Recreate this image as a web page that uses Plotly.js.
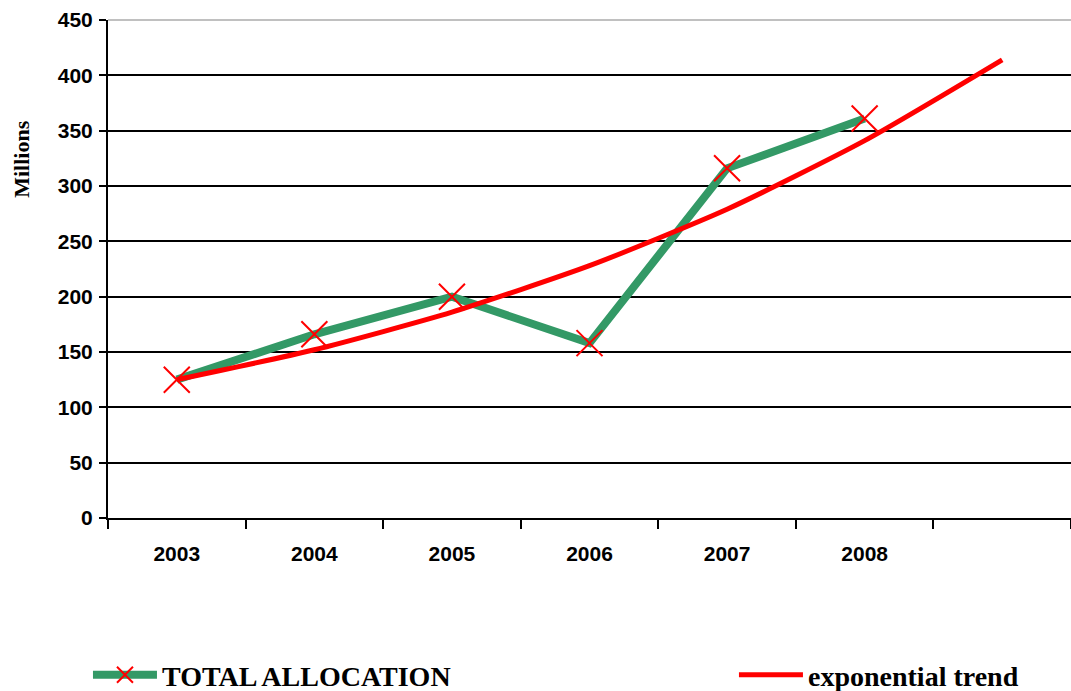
<!DOCTYPE html>
<html>
<head>
<meta charset="utf-8">
<script src="https://cdn.plot.ly/plotly-3.0.1.min.js"></script>
<style>html,body{margin:0;padding:0;background:#fff;}#chart{width:1071px;height:691px;}</style>
</head>
<body>
<div id="chart"></div>
<script>
const categories = ['2003', '2004', '2005', '2006', '2007', '2008', ' '];
const allocationYears = ['2003', '2004', '2005', '2006', '2007', '2008'];
const allocationValues = [125, 166, 200, 158, 316, 361];
const trendYears = ['2003', '2004', '2005', '2006', '2007', '2008', ' '];
const trendValues = [125, 152, 186, 228, 279, 341, 414];
const yTicks = [0, 50, 100, 150, 200, 250, 300, 350, 400, 450];
const yGridTicks = [0, 50, 100, 150, 200, 250, 300, 350, 400];

const legendFont = {family: 'Liberation Serif, Times New Roman, serif', size: 28, color: '#000', weight: 'bold'};

const traces = [
  {x: [categories[0]], y: [null], yaxis: 'y2', xaxis: 'x', showlegend: false, hoverinfo: 'skip', type: 'scatter', mode: 'lines'},
  {
    x: allocationYears, y: allocationValues, name: 'TOTAL ALLOCATION',
    type: 'scatter', mode: 'lines+markers', legend: 'legend',
    line: {color: '#339966', width: 8},
    marker: {symbol: 'x-thin-open', size: 26, color: '#FF0000', line: {color: '#FF0000', width: 2}},
    xaxis: 'x', yaxis: 'y'
  },
  {
    x: trendYears, y: trendValues, name: 'exponential trend',
    type: 'scatter', mode: 'lines', legend: 'legend2',
    line: {color: '#FF0000', width: 5, shape: 'spline', smoothing: 0.6},
    xaxis: 'x', yaxis: 'y'
  }
];

const tickFont = {family: 'Liberation Sans, Arial, sans-serif', size: 21, color: '#000', weight: 'bold'};

const layout = {
  width: 1071, height: 691,
  margin: {l: 108, r: 0, t: 20, b: 173, autoexpand: false},
  paper_bgcolor: '#fff', plot_bgcolor: '#fff',
  showlegend: true,
  legend: {
    orientation: 'h', x: -0.0208, xanchor: 'left', y: -0.3153, yanchor: 'middle',
    itemwidth: 64, font: legendFont, bgcolor: 'rgba(0,0,0,0)'
  },
  legend2: {
    orientation: 'h', x: 0.650, xanchor: 'left', y: -0.3153, yanchor: 'middle',
    itemwidth: 64, font: legendFont, bgcolor: 'rgba(0,0,0,0)'
  },
  xaxis: {
    type: 'category', categoryorder: 'array', categoryarray: categories,
    range: [-0.5, 6.5], tickson: 'boundaries',
    ticks: 'outside', ticklen: 9, tickwidth: 2, tickcolor: '#000',
    showline: true, linecolor: '#000', linewidth: 2,
    showgrid: false, zeroline: false,
    tickfont: tickFont, ticklabelstandoff: 16, fixedrange: true
  },
  yaxis: {
    range: [0, 450], tickmode: 'array', tickvals: yTicks,
    ticks: 'outside', ticklen: 7, tickwidth: 2, tickcolor: '#000',
    showline: true, linecolor: '#000', linewidth: 2,
    showgrid: false, zeroline: false,
    tickfont: tickFont, ticklabelstandoff: 2, fixedrange: true
  },
  yaxis2: {
    overlaying: 'y', range: [0, 450], tickmode: 'array', tickvals: yGridTicks,
    showticklabels: false, ticks: '', showgrid: true, gridcolor: '#000', gridwidth: 2,
    zeroline: false, showline: false, fixedrange: true
  },
  shapes: [
    {type: 'line', xref: 'paper', yref: 'paper', x0: 0, x1: 1, y0: 1, y1: 1,
     line: {color: '#c0c0c0', width: 2}, layer: 'below'}
  ],
  annotations: [
    {text: 'Millions', xref: 'paper', yref: 'paper', x: -0.09, y: 0.72,
     xanchor: 'center', yanchor: 'middle', textangle: -90, showarrow: false,
     font: {family: 'Liberation Serif, Times New Roman, serif', size: 22, color: '#000', weight: 'bold'}}
  ]
};

Plotly.newPlot('chart', traces, layout, {displayModeBar: false, staticPlot: true});
</script>
</body>
</html>
